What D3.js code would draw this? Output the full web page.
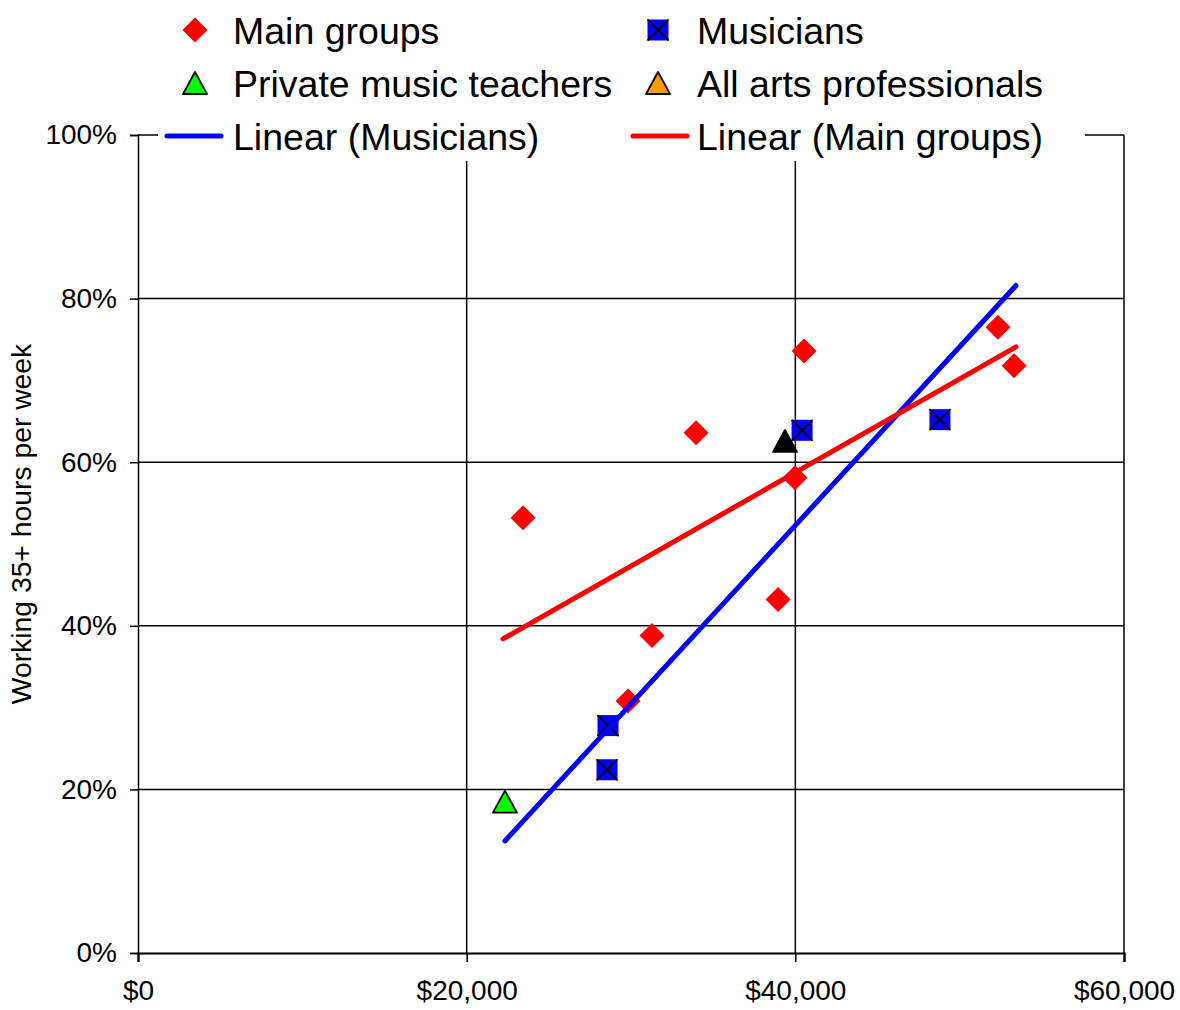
<!DOCTYPE html>
<html>
<head>
<meta charset="utf-8">
<script src="https://d3js.org/d3.v7.min.js"></script>
<style>
  html, body { margin: 0; padding: 0; background: #fff; }
  svg { display: block; font-family: "Liberation Sans", Arial, sans-serif; }
</style>
</head>
<body>
<svg id="chart" width="1180" height="1010"></svg>
<script>
// ---- data ----
const mainGroupsIncome = [23430, 29820, 31280, 33960, 38950, 39980, 40530, 52330, 53310];
const mainGroupsPct    = [53.2, 30.8, 38.8, 63.6, 43.2, 58.1, 73.6, 76.5, 71.8];
const musiciansIncome  = [28540, 28600, 40410, 48800];
const musiciansPct     = [22.4, 27.8, 63.9, 65.2];
const teachersIncome   = [22330];
const teachersPct      = [18.5];
const allArtsIncome    = [39370];
const allArtsPct       = [62.6];
const trendMusiciansX  = [22330, 53430];
const trendMusiciansY  = [13.7, 81.6];
const trendMainX       = [22210, 53430];
const trendMainY       = [38.4, 74.1];
const xTicks = [0, 20000, 40000, 60000];
const yTicks = [0, 20, 40, 60, 80, 100];
const legendLabels = ["Main groups", "Musicians", "Private music teachers", "All arts professionals", "Linear (Musicians)", "Linear (Main groups)"];
const yTitle = "Working 35+ hours per week";

const svg = d3.select("#chart");
const x = d3.scaleLinear().domain([0, 60000]).range([138, 1124]);
const y = d3.scaleLinear().domain([0, 100]).range([953, 135]);
const zip = (a, b) => a.map((v, i) => [v, b[i]]);

// gridlines
const g = svg.append("g");
g.selectAll("line.hg").data(yTicks.filter(t => t > 0 && t < 100)).enter().append("line")
  .attr("x1", x(0)).attr("x2", x(60000)).attr("y1", d => y(d)).attr("y2", d => y(d))
  .attr("stroke", "#000").attr("stroke-width", 1.5);
g.selectAll("line.vg").data(xTicks.filter(t => t > 0 && t < 60000)).enter().append("line")
  .attr("x1", d => x(d)).attr("x2", d => x(d)).attr("y1", y(0)).attr("y2", y(100))
  .attr("stroke", "#000").attr("stroke-width", 1.5);
// plot border (top/right)
g.append("line").attr("x1", x(0)).attr("x2", x(60000)).attr("y1", y(100)).attr("y2", y(100)).attr("stroke", "#000").attr("stroke-width", 1.5);
g.append("line").attr("x1", x(60000)).attr("x2", x(60000)).attr("y1", y(100)).attr("y2", y(0)).attr("stroke", "#000").attr("stroke-width", 1.5);

// axes
const yAxis = d3.axisLeft(y).tickValues(yTicks).tickFormat(d => d + "%").tickSize(8).tickPadding(13);
const ya = svg.append("g").attr("transform", `translate(${x(0)},0)`).call(yAxis);
const xAxis = d3.axisBottom(x).tickValues(xTicks).tickFormat(d => "$" + d3.format(",")(d)).tickSize(9).tickPadding(18);
const xa = svg.append("g").attr("transform", `translate(0,${y(0)})`).call(xAxis);
[ya, xa].forEach(a => {
  a.select(".domain").attr("stroke", "#000").attr("stroke-width", 2.2);
  a.selectAll(".tick line").attr("stroke", "#000").attr("stroke-width", 1.5);
  a.selectAll(".tick text").attr("fill", "#000").attr("font-size", 28).attr("font-family", "'Liberation Sans', Arial, sans-serif");
});
ya.select(".domain").attr("stroke-width", 1.5);

svg.append("text").attr("transform", `translate(31,524) rotate(-90)`)
  .attr("text-anchor", "middle").attr("font-size", 28.3).attr("fill", "#000").text(yTitle);

// marker helpers
const diamond = (s) => `M0,${-s}L${s},0L0,${s}L${-s},0Z`;
const tri = (w, h) => `M0,${-h/2}L${w/2},${h/2}L${-w/2},${h/2}Z`;
function drawSquare(sel, cx, cy) {
  const s = 10.5;
  sel.append("rect").attr("x", cx - s).attr("y", cy - s).attr("width", 2*s).attr("height", 2*s).attr("fill", "#0000ff");
  sel.append("path").attr("d", `M${cx-s},${cy-s}L${cx+s},${cy+s}M${cx+s},${cy-s}L${cx-s},${cy+s}`).attr("stroke", "#000").attr("stroke-width", 1.8);
}

const pts = svg.append("g");
pts.selectAll("path.mg").data(zip(mainGroupsIncome, mainGroupsPct)).enter().append("path")
  .attr("d", diamond(12.5)).attr("transform", d => `translate(${x(d[0])},${y(d[1])})`).attr("fill", "#ff0000");
zip(musiciansIncome, musiciansPct).forEach(d => drawSquare(pts, x(d[0]), y(d[1])));
pts.selectAll("path.pt").data(zip(teachersIncome, teachersPct)).enter().append("path")
  .attr("d", tri(24, 22)).attr("transform", d => `translate(${x(d[0])},${y(d[1])})`)
  .attr("fill", "#00ff00").attr("stroke", "#000").attr("stroke-width", 1.8).attr("stroke-linejoin", "round");
pts.selectAll("path.aa").data(zip(allArtsIncome, allArtsPct)).enter().append("path")
  .attr("d", tri(24, 22)).attr("transform", d => `translate(${x(d[0])},${y(d[1])})`)
  .attr("fill", "#000").attr("stroke", "#000").attr("stroke-width", 1.8).attr("stroke-linejoin", "round");

// trendlines
const line = d3.line().x(d => x(d[0])).y(d => y(d[1]));
svg.append("path").datum(zip(trendMusiciansX, trendMusiciansY)).attr("d", line)
  .attr("stroke", "#0000ff").attr("stroke-width", 5).attr("stroke-linecap", "round").attr("fill", "none");
svg.append("path").datum(zip(trendMainX, trendMainY)).attr("d", line)
  .attr("stroke", "#ff0000").attr("stroke-width", 5).attr("stroke-linecap", "round").attr("fill", "none");

// legend
const lg = svg.append("g");
lg.append("rect").attr("x", 158).attr("y", 0).attr("width", 927).attr("height", 161).attr("fill", "#fff");
const colX = [195, 658], textX = [233, 697], rowY = [30, 83, 136];
const items = legendLabels.map((t, i) => ({ t, col: i % 2, row: Math.floor(i / 2), i }));
items.forEach(it => {
  const cx = colX[it.col], cy = rowY[it.row];
  if (it.i === 0) lg.append("path").attr("d", diamond(12.5)).attr("transform", `translate(${cx},${cy})`).attr("fill", "#ff0000");
  if (it.i === 1) drawSquare(lg, cx, cy);
  if (it.i === 2) lg.append("path").attr("d", tri(24, 22)).attr("transform", `translate(${cx},${cy})`).attr("fill", "#00ff00").attr("stroke", "#000").attr("stroke-width", 1.8).attr("stroke-linejoin", "round");
  if (it.i === 3) lg.append("path").attr("d", tri(24, 22)).attr("transform", `translate(${cx},${cy})`).attr("fill", "#ff9900").attr("stroke", "#000").attr("stroke-width", 1.8).attr("stroke-linejoin", "round");
  if (it.i === 4) lg.append("line").attr("x1", 167).attr("x2", 221).attr("y1", cy).attr("y2", cy).attr("stroke", "#0000ff").attr("stroke-width", 5).attr("stroke-linecap", "round");
  if (it.i === 5) lg.append("line").attr("x1", 633).attr("x2", 687).attr("y1", cy).attr("y2", cy).attr("stroke", "#ff0000").attr("stroke-width", 5).attr("stroke-linecap", "round");
  lg.append("text").attr("x", textX[it.col]).attr("y", cy).attr("dy", "0.36em")
    .attr("font-size", 37.5).attr("fill", "#000").text(it.t);
});
</script>
</body>
</html>
